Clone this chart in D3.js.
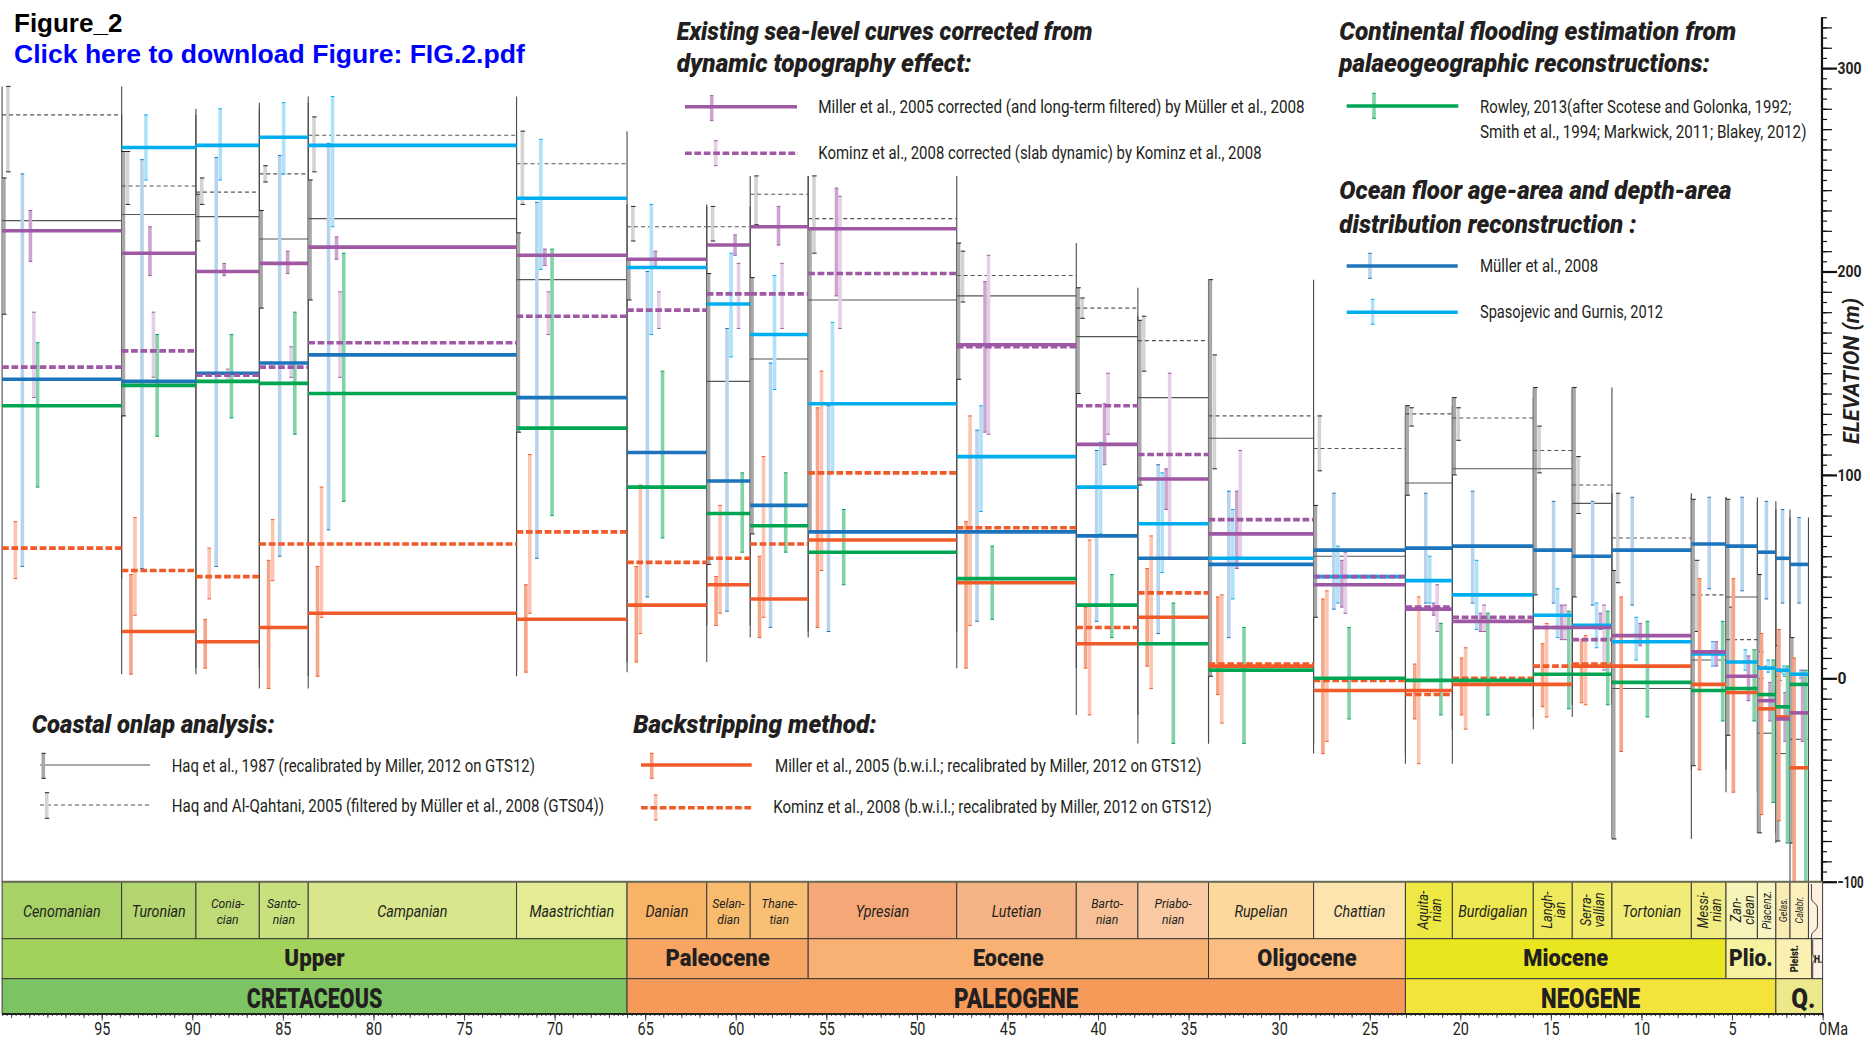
<!DOCTYPE html>
<html><head><meta charset="utf-8">
<script src="https://cdn.jsdelivr.net/npm/d3@7"></script>
<style>body{margin:0;background:#fff}svg{display:block}</style>
</head><body>
<svg id="c" width="1868" height="1058"></svg>
<script>
// ---------------- DATA ----------------
const stageNames = ["Cenomanian","Turonian","Coniacian","Santonian","Campanian","Maastrichtian","Danian","Selandian","Thanetian","Ypresian","Lutetian","Bartonian","Priabonian","Rupelian","Chattian","Aquitanian","Burdigalian","Langhian","Serravallian","Tortonian","Messinian","Zanclean","Piacenzian","Gelasian","Calabrian"];
const stageStartMa = [100.5,93.9,89.8,86.3,83.6,72.1,66.0,61.6,59.2,56.0,47.8,41.2,37.8,33.9,28.1,23.03,20.44,15.97,13.82,11.63,7.246,5.333,3.6,2.58,1.8];
const stageEndMa   = [93.9,89.8,86.3,83.6,72.1,66.0,61.6,59.2,56.0,47.8,41.2,37.8,33.9,28.1,23.03,20.44,15.97,13.82,11.63,7.246,5.333,3.6,2.58,1.8,0.781];
const stageLabels = ["Cenomanian","Turonian","Conia-\ncian","Santo-\nnian","Campanian","Maastrichtian","Danian","Selan-\ndian","Thane-\ntian","Ypresian","Lutetian","Barto-\nnian","Priabo-\nnian","Rupelian","Chattian","Aquita-\nnian","Burdigalian","Langh-\nian","Serra-\nvallian","Tortonian","Messi-\nnian","Zan-\nclean","Piacenz.","Gelas.","Calabr."];

const epochNames = ["Upper","Paleocene","Eocene","Oligocene","Miocene","Plio.","Pleist.","H."];
const epochStartMa = [100.5,66.0,56.0,33.9,23.03,5.333,2.58,0.6];
const epochEndMa   = [66.0,56.0,33.9,23.03,5.333,2.58,0.6,0];
const periodNames = ["CRETACEOUS","PALEOGENE","NEOGENE","Q."];
const periodStartMa = [100.5,66.0,23.03,2.58];
const periodEndMa   = [66.0,23.03,2.58,0];

// Coastal onlap (Haq et al., 1987) and Haq & Al-Qahtani 2005
const haq87   = [225,228,227,216,226,196,206,146,157,186,188,168,138,118,60,96,103,103,86,-5,9,40,-27,-37,-30];
const haq87Lo = [179,129,215,182,186,121,186,56,71,72,147,140,95,1,30,90,100,41,40,-79,-43,-28,-76,-80,-81];
const haq87Hi = [246,259,238,230,245,219,206,199,197,221,214,192,176,196,85,134,138,143,143,53,88,88,51,16,20];
const haqAQ   = [277,242,239,248,267,253,222,222,238,226,198,182,166,129,113,130,128,112,95,69,41,19,6,1,null];
const haqAQLo = [249,233,233,244,249,233,215,215,223,209,185,177,151,103,102,124,117,101,81,47,23,-7,0,-1,null];
const haqAQHi = [291,259,246,252,276,269,232,232,247,247,210,187,178,159,129,133,133,124,109,91,58,35,13,3,null];
// Backstripping
const millerB   = [null,23,18,25,32,29,36,46,39,68,47,17,30,6,-6,-6,-3,-3,6,6,-3,-7,-15,-19,-44];
const millerBLo = [null,2,5,-5,1,3,8,26,20,25,5,5,6,-8,-37,-20,-18,-14,-12,-36,-45,-56,-67,-70,-100];
const millerBHi = [null,51,29,58,55,46,55,50,60,133,77,35,54,40,39,7,10,17,19,40,49,49,22,24,10];
const kominzB   = [64,53,50,66,66,72,57,59,66,101,74,25,42,7,-1,-8,0,6,7,null,null,null,null,null,null];
const kominzBLo = [49,31,39,48,30,32,22,32,30,53,26,-18,-5,-22,-31,-42,-25,-19,-13,null,null,null,null,null,null];
const kominzBHi = [77,79,64,78,94,110,95,85,109,151,129,68,70,41,43,40,15,27,21,null,null,null,null,null,null];
// Ocean floor reconstructions
const muller   = [147,146,150,155,159,138,111,97,85,72,72,70,59,56,63,64,65,63,60,63,66,65,62,59,56];
const mullerLo = [55,54,55,60,73,59,40,33,25,23,28,28,22,20,34,37,37,37,36,36,44,43,39,37,37];
const mullerHi = [248,255,256,257,263,234,200,172,155,134,122,112,105,92,91,91,92,87,87,89,89,89,87,83,79];
const spaso   = [null,261,262,266,262,236,202,184,169,135,109,94,76,59,50,48,41,31,26,18,12,8,5,4,2];
const spasoLo = [null,245,245,248,222,201,169,158,142,101,82,71,52,39,37,37,24,20,15,9,6,4,3,2,0];
const spasoHi = [null,277,280,283,286,265,233,209,198,175,134,116,101,83,65,60,58,44,37,30,18,14,9,6,4];
// Corrected sea-level curves
const millerC   = [220,209,200,204,212,208,206,213,222,221,164,115,98,71,46,34,28,25,25,21,13,1,-11,-20,-17];
const millerCLo = [205,198,198,199,206,203,202,208,213,188,121,105,83,54,35,31,23,19,24,16,6,-11,-21,-31,-31];
const millerCHi = [230,222,204,210,217,211,210,218,232,241,195,135,103,92,58,37,32,36,32,27,18,11,-2,-7,4];
const kominzC   = [153,161,149,153,165,178,181,189,189,199,163,134,110,78,50,35,30,25,19,null,null,null,null,null,null];
const kominzCLo = [138,148,146,148,148,169,172,172,172,172,120,120,59,59,32,23,23,19,4,null,null,null,null,null,null];
const kominzCHi = [180,180,152,163,190,190,190,204,204,237,208,150,150,112,62,46,36,36,36,null,null,null,null,null,null];
// Continental flooding
const rowley   = [134,144,146,145,140,123,94,81,75,62,49,36,17,4,0,-1,-1,2,2,-2,-6,-5,-8,-14,-3];
const rowleyLo = [94,119,128,120,87,80,69,62,62,46,29,20,-32,-32,-20,-18,-18,-15,-13,-19,-21,-21,-61,-81,-100];
const rowleyHi = [165,169,169,180,209,211,151,101,101,83,65,51,37,25,25,27,32,33,33,28,28,14,9,6,4];

const elevTicks = [-100,0,100,200,300];
const ageTicks = [95,90,85,80,75,70,65,60,55,50,45,40,35,30,25,20,15,10,5,0];

// ---------------- STYLE ----------------
const stageColors = ["#a8d167","#b3d670","#bedb77","#c9e07f","#d9e68b","#e4eb94","#f8b367","#f9bb6e","#f9bf74","#f5a777","#f6b385","#f7bf95","#f9caa3","#fcd89c","#fde3ad","#ede844","#eee950","#efea5c","#f0eb68","#f0ec75","#f2ed82","#f6f4b8","#f8f5c3","#fbecb6","#fcefbe"];
const epochColors = ["#a2d25b","#f8a564","#f9b173","#fbbe80","#e9e620","#f5f3a0","#fbefb2","#fdf1e3"];
const periodColors = ["#7cc463","#f59a58","#f4e33b","#ebe98b"];
const rotatedStage = [15,17,18,20,21,22,23,24];
const FONT = 'Roboto, "Open Sans", "Liberation Sans", sans-serif';
const INK = '#231f20';

const svg = d3.select('#c');
const x = d3.scaleLinear().domain([0,100.5]).range([1822.6,2.1]);
const y = d3.scaleLinear().domain([-100,300]).range([881.7,68.1]);

// text helper: multi-line via tspans, condensed horizontally with a transform
function T(g, str, px, py, o={}) {
  const t = g.append('text').attr('x',px).attr('y',py)
    .attr('font-family', o.ff||FONT).attr('font-size', o.fs||18)
    .attr('font-weight', o.fw||400).attr('font-style', o.it?'italic':'normal')
    .attr('fill', o.fill||INK).attr('text-anchor', o.anchor||'start');
  const lines = String(str).split('\n');
  let nat = 0;
  lines.forEach((L,j)=>{
    const ts = t.append('tspan').attr('x',px).text(L);
    if (j===0) { if (o.dy) ts.attr('dy', o.dy); }
    else ts.attr('dy', o.lh||16);
    nat = Math.max(nat, ts.node().getComputedTextLength());
  });
  let s = 1;
  if (o.w) s = o.w/nat; else if (o.k) s = o.k;
  const rot = o.rot ? `rotate(${o.rot})` : '';
  t.attr('transform', `translate(${px},${py}) ${rot} scale(${s},1) translate(${-px},${-py})`);
  return t;
}

const thick = [
  {v:millerB, lo:millerBLo, hi:millerBHi, color:'#f15a29', err:'#f7a587', off:9.3, dash:null},
  {v:kominzB, lo:kominzBLo, hi:kominzBHi, color:'#f15a29', err:'#fbc5b1', off:13.3, dash:'6.7,2.7'},
  {v:muller, lo:mullerLo, hi:mullerHi, color:'#1c75bc', err:'#b7d4ec', off:20.3, dash:null},
  {v:spaso, lo:spasoLo, hi:spasoHi, color:'#00aeef', err:'#afe2f8', off:24.3, dash:null},
  {v:millerC, lo:millerCLo, hi:millerCHi, color:'#9e58a4', err:'#cba5cf', off:28.3, dash:null},
  {v:kominzC, lo:kominzCLo, hi:kominzCHi, color:'#9e58a4', err:'#e5cfe7', off:31.8, dash:'6.7,2.7'},
  {v:rowley, lo:rowleyLo, hi:rowleyHi, color:'#00a651', err:'#82d3a8', off:35.5, dash:null}
];
const haqSeries = [
  {v:haq87, lo:haq87Lo, hi:haq87Hi, bar:'#a8a8a8', off:0, dash:null},
  {v:haqAQ, lo:haqAQLo, hi:haqAQHi, bar:'#d3d3d3', off:4, dash:'4,3'}
];
const allSeries = haqSeries.concat(thick);

const gData = svg.append('g');
// stage boundary lines
stageNames.forEach((s,i)=>{
  const vals = [];
  allSeries.forEach(S=>{[S.v[i],S.lo[i],S.hi[i]].forEach(v=>{ if(v!=null) vals.push(v); });});
  const mx = d3.max(vals), mn = d3.min(vals);
  [stageStartMa[i], stageEndMa[i]].forEach((a,j)=>{
    gData.append('line').attr('x1',x(a)).attr('x2',x(a))
      .attr('y1',y(mx)).attr('y2', (i===0&&j===0)? y(-100) : y(mn))
      .attr('stroke','#4a4a4a').attr('stroke-width',1.1);
  });
});
function fac(i){ const w = x(stageEndMa[i])-x(stageStartMa[i]); return Math.min(1,(w-2)/37); }
// Haq range bars
haqSeries.forEach(S=>{
  stageNames.forEach((s,i)=>{
    if (S.v[i]==null) return;
    const x0 = x(stageStartMa[i]) + S.off*fac(i);
    gData.append('rect').attr('x',x0).attr('width',3.6)
      .attr('y',y(S.hi[i])).attr('height',y(S.lo[i])-y(S.hi[i])).attr('fill',S.bar);
    [S.hi[i],S.lo[i]].forEach(v=>gData.append('line').attr('x1',x0).attr('x2',x0+4.5)
      .attr('y1',y(v)).attr('y2',y(v)).attr('stroke','#222').attr('stroke-width',1));
  });
});
// Haq lines
haqSeries.forEach(S=>{
  stageNames.forEach((s,i)=>{
    if (S.v[i]==null) return;
    gData.append('line').attr('x1',x(stageStartMa[i])).attr('x2',x(stageEndMa[i]))
      .attr('y1',y(S.v[i])).attr('y2',y(S.v[i])).attr('stroke','#555').attr('stroke-width',1.1)
      .attr('stroke-dasharray',S.dash);
  });
});
// error bars
thick.forEach(S=>{
  stageNames.forEach((s,i)=>{
    if (S.lo[i]==null) return;
    const cx = x(stageStartMa[i]) + S.off*fac(i);
    gData.append('rect').attr('x',cx-1.8).attr('width',3.6)
      .attr('y',y(S.hi[i])).attr('height',y(S.lo[i])-y(S.hi[i])).attr('fill',S.err);
    [S.hi[i],S.lo[i]].forEach(v=>gData.append('line').attr('x1',cx-1.8).attr('x2',cx+1.8)
      .attr('y1',y(v)).attr('y2',y(v)).attr('stroke',S.color).attr('stroke-width',1));
  });
});
// thick lines
thick.forEach(S=>{
  stageNames.forEach((s,i)=>{
    if (S.v[i]==null) return;
    gData.append('line').attr('x1',x(stageStartMa[i])).attr('x2',x(stageEndMa[i]))
      .attr('y1',y(S.v[i])).attr('y2',y(S.v[i])).attr('stroke',S.color).attr('stroke-width',3.6)
      .attr('stroke-dasharray',S.dash);
  });
});

// ---------------- ELEVATION AXIS ----------------
const gR = svg.append('g').attr('transform','translate(1822,0)');
gR.append('g').call(d3.axisRight(y).tickValues(d3.range(-100,326,5)).tickSize(5).tickFormat(''));
gR.append('g').call(d3.axisRight(y).tickValues(d3.range(-100,326,10)).tickSize(10).tickFormat(''));
gR.append('g').attr('class','maj').call(d3.axisRight(y).tickValues(elevTicks).tickSize(15).tickPadding(0.5).tickFormat(d3.format('d')));
gR.selectAll('.domain').remove();
gR.selectAll('.tick line').attr('stroke','#111').attr('stroke-width',1.2);
gR.selectAll('.maj .tick line').attr('stroke-width',2.2);
gR.selectAll('.maj text').each(function(d){
  const t=d3.select(this); t.attr('font-family',FONT).attr('font-size',17).attr('font-weight',700).attr('fill',INK);
  const nat = this.getComputedTextLength();
  const w = d===-100 ? 26 : (d===0 ? 9 : 24);
  const x0 = +t.attr('x');
  t.attr('transform',`translate(${x0},0) scale(${w/nat},1) translate(${-x0},0)`);
});
gR.append('line').attr('x1',0).attr('x2',0).attr('y1',y(-100)+1).attr('y2',y(325)).attr('stroke','#111').attr('stroke-width',2.2);
T(svg,'ELEVATION (m)',1851,371,{fs:22,fw:700,it:true,anchor:'middle',dy:'0.35em',w:146,rot:-90});

// ---------------- TIME SCALE ----------------
const gT = svg.append('g');
const bandStage=[881.7,938.7], bandEpoch=[938.7,978.7], bandPeriod=[978.7,1013.5];
function cell(a,b,band,col){
  gT.append('rect').attr('x',x(a)).attr('width',x(b)-x(a)).attr('y',band[0]).attr('height',band[1]-band[0])
    .attr('fill',col).attr('stroke','#3a3a3a').attr('stroke-width',1);
}
stageNames.forEach((s,i)=>cell(stageStartMa[i],stageEndMa[i],bandStage,stageColors[i]));
cell(0.781,0,bandStage,'#fdf0dc');
epochNames.forEach((s,i)=>cell(epochStartMa[i],epochEndMa[i],bandEpoch,epochColors[i]));
periodNames.forEach((s,i)=>cell(periodStartMa[i],periodEndMa[i],bandPeriod,periodColors[i]));
gT.append('line').attr('x1',x(100.5)).attr('x2',x(0)).attr('y1',bandStage[0]).attr('y2',bandStage[0]).attr('stroke','#6b6b58').attr('stroke-width',2);
// braces
const bx = x(0.781)+3;
gT.append('path').attr('d',`M${bx} 884 v14 q0 3 3 5 q3 2 3 5 v18 q0 3 -3 5 q-3 2 -3 5 v12`).attr('fill','none').attr('stroke','#444').attr('stroke-width',1);
gT.append('path').attr('d',`M${x(0.6)+1} 940 v14 q0 3 3 5 q-3 2 -3 5 v14`).attr('fill','none').attr('stroke','#444').attr('stroke-width',1);

stageNames.forEach((s,i)=>{
  const cx = (x(stageStartMa[i])+x(stageEndMa[i]))/2;
  const lab = stageLabels[i];
  const nl = lab.split('\n').length;
  if (rotatedStage.includes(i)) {
    const fs = i>=23?11:(i===22?13:15.5);
    const gap = 13;
    const px = cx - (nl-1)*gap/2;
    T(gT,lab,px,910,{fs:fs,it:true,anchor:'middle',dy:'0.35em',lh:gap,k:0.82,rot:-90});
  } else if (nl===1) {
    T(gT,lab,cx,917,{fs:17,it:true,anchor:'middle',k:0.84});
  } else {
    T(gT,lab,cx,908.5,{fs:13.5,it:true,anchor:'middle',lh:16,k:0.9});
  }
});
const epochW = [60.5,104.3,70.6,99.3,85,43.7,null,null];
epochNames.forEach((s,i)=>{
  const cx = (x(epochStartMa[i])+x(epochEndMa[i]))/2;
  if (s==='Pleist.') T(gT,s,cx,958.7,{fs:11,fw:900,anchor:'middle',dy:'0.35em',k:0.85,rot:-90});
  else if (s==='H.') T(gT,s,cx+1,963,{fs:10,fw:900,anchor:'middle',k:0.85});
  else T(gT,s,cx,966.5,{fs:23,fw:900,anchor:'middle',w:epochW[i]});
});
const periodW=[135.5,124.4,99.3,24];
periodNames.forEach((s,i)=>{
  const cx = (x(periodStartMa[i])+x(periodEndMa[i]))/2 + (i===3?4:0);
  T(gT,s,cx,1008.5,{fs:27,fw:900,anchor:'middle',w:periodW[i]});
});

// age axis
const gB = svg.append('g').attr('transform','translate(0,1013.5)');
gB.append('g').call(d3.axisBottom(x).tickValues(d3.range(0,100.51,0.25)).tickSize(2.5).tickFormat('').tickSizeOuter(0));
gB.append('g').call(d3.axisBottom(x).tickValues(d3.range(0,101,1)).tickSize(4.5).tickFormat('').tickSizeOuter(0));
gB.append('g').attr('class','maj').call(d3.axisBottom(x).tickValues(ageTicks).tickSize(7).tickPadding(2).tickFormat(d3.format('d')).tickSizeOuter(0));
gB.selectAll('.domain').attr('stroke','#222').attr('stroke-width',1.3);
gB.selectAll('.tick line').attr('stroke','#333').attr('stroke-width',0.9);
gB.selectAll('.maj text').attr('font-family',FONT).attr('font-size',18).attr('fill',INK)
  .attr('transform','scale(0.8,1)');
T(svg,'Ma',x(0)+5,1035.5,{fs:18,k:0.8});

// ---------------- TITLES & LEGENDS ----------------
T(svg,'Figure_2',14,31.7,{ff:'"Liberation Sans", Arial, sans-serif',fs:26,fw:700,fill:'#000'});
T(svg,'Click here to download Figure: FIG.2.pdf',14,63.3,{ff:'"Liberation Sans", Arial, sans-serif',fs:26,fw:700,fill:'#0000ff',w:511});

const gL = svg.append('g');
function head(str,px,py,w){ T(gL,str,px,py,{fs:26,fw:900,it:true,w:w}); }
function legThick(S,x1,x2,ly,ex,ey1,ey2){
  gL.append('rect').attr('x',ex-1.8).attr('width',3.6).attr('y',ey1).attr('height',ey2-ey1).attr('fill',S.err);
  [ey1,ey2].forEach(v=>gL.append('line').attr('x1',ex-1.8).attr('x2',ex+1.8).attr('y1',v).attr('y2',v).attr('stroke',S.color));
  gL.append('line').attr('x1',x1).attr('x2',x2).attr('y1',ly).attr('y2',ly).attr('stroke',S.color).attr('stroke-width',3.6).attr('stroke-dasharray',S.dash);
}
function legHaq(S,x1,x2,ly,ex,ey1,ey2){
  gL.append('line').attr('x1',x1).attr('x2',x2).attr('y1',ly).attr('y2',ly).attr('stroke','#555').attr('stroke-width',1.1).attr('stroke-dasharray',S.dash);
  gL.append('rect').attr('x',ex-1.8).attr('width',3.6).attr('y',ey1).attr('height',ey2-ey1).attr('fill',S.bar);
  [ey1,ey2].forEach(v=>gL.append('line').attr('x1',ex-1.8).attr('x2',ex+2.5).attr('y1',v).attr('y2',v).attr('stroke','#222'));
}
// corrected curves
head('Existing sea-level curves corrected from',676.7,40,416);
head('dynamic topography effect:',676.7,71.7,295);
legThick(thick[4],685,797,106.7,711.7,95.7,120.7);
T(gL,'Miller et al., 2005 corrected (and long-term filtered) by Müller et al., 2008',818.3,113.3,{fs:18.5,w:487});
legThick(thick[5],685,798,153.3,715.7,140.7,165.7);
T(gL,'Kominz et al., 2008 corrected (slab dynamic) by Kominz et al., 2008',818.3,159.5,{fs:18.5,w:443.4});
// continental flooding
head('Continental flooding estimation from',1339.3,40,397.4);
head('palaeogeographic reconstructions:',1339.3,71.7,370.7);
legThick(thick[6],1346.7,1458.3,106,1374,93.3,118.3);
T(gL,'Rowley, 2013(after Scotese and Golonka, 1992;',1480,113.3,{fs:18.5,w:311.7});
T(gL,'Smith et al., 1994; Markwick, 2011; Blakey, 2012)',1480,138.3,{fs:18.5,w:326.7});
// ocean floor
head('Ocean floor age-area and depth-area',1339.3,199.5,392.4);
head('distribution reconstruction :',1339.3,233.3,297.4);
legThick(thick[2],1346.7,1457.7,266,1370,253.3,278.3);
T(gL,'Müller et al., 2008',1480,272,{fs:18.5,w:118.3});
legThick(thick[3],1346.7,1457.7,312.3,1372.7,299.3,324.3);
T(gL,'Spasojevic and Gurnis, 2012',1480,318.3,{fs:18.5,w:183.3});
// coastal onlap
head('Coastal onlap analysis:',31.7,733.3,243);
legHaq(haqSeries[0],40,150,765,43.3,753.3,778.3);
T(gL,'Haq et al., 1987 (recalibrated by Miller, 2012 on GTS12)',171.7,771.7,{fs:18.5,w:363.3});
legHaq(haqSeries[1],40,150,805,46.7,792.7,818.3);
T(gL,'Haq and Al-Qahtani, 2005 (filtered by Müller et al., 2008 (GTS04))',171.7,811.7,{fs:18.5,w:432.6});
// backstripping
head('Backstripping method:',633.3,733.3,243.4);
legThick(thick[0],641,751.7,765,651.7,753.3,778.3);
T(gL,'Miller et al., 2005 (b.w.i.l.; recalibrated by Miller, 2012 on GTS12)',775,771.7,{fs:18.5,w:426.7});
legThick(thick[1],641,751.7,807.7,655.7,795,820);
T(gL,'Kominz et al., 2008 (b.w.i.l.; recalibrated by Miller, 2012 on GTS12)',773.3,813.5,{fs:18.5,w:438.4});
</script>
</body></html>
